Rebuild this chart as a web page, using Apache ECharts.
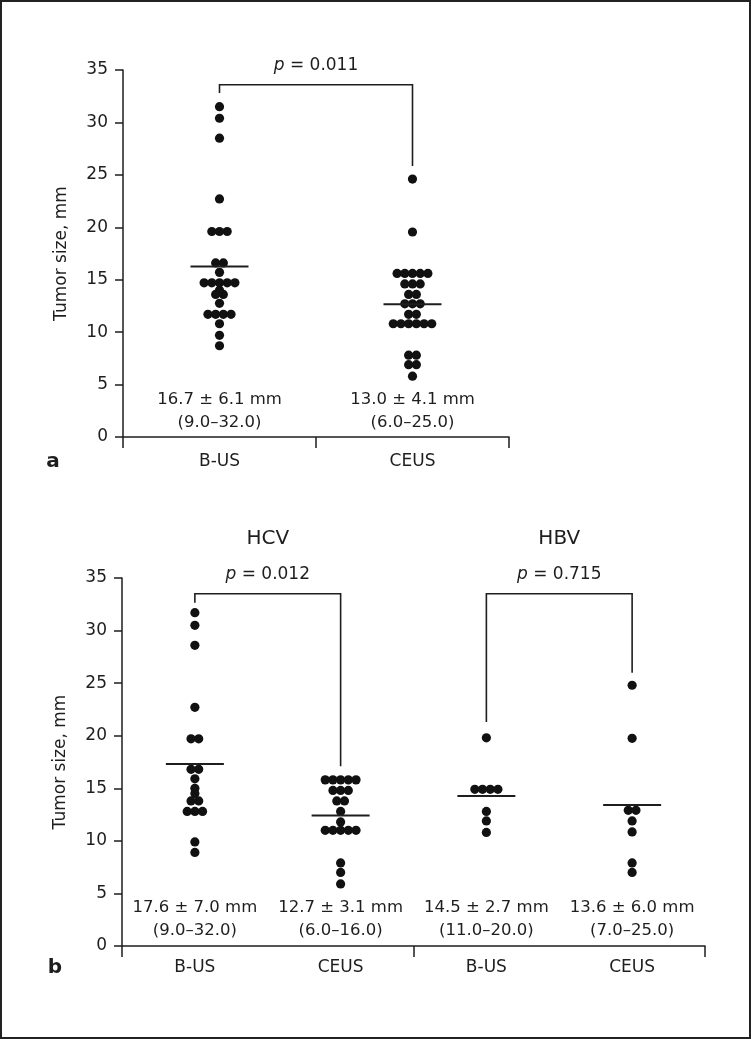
<!DOCTYPE html>
<html><head><meta charset="utf-8">
<script src="https://cdn.jsdelivr.net/npm/echarts@6/dist/echarts.min.js"></script>
<style>html,body{margin:0;padding:0;background:#fff}#c{width:751px;height:1039px}</style>
</head><body><div id="c"></div><script>
// ---------- data ----------
const yTicks = [0, 5, 10, 15, 20, 25, 30, 35];
const catsA = ['B-US', 'CEUS'];
const catsB = ['B-US', 'CEUS', 'B-US', 'CEUS'];
const groupNamesB = ['HCV', 'HBV'];

// panel a: individual tumour sizes (mm)
const aBUS = [31.5, 30.4, 28.5, 22.7, 19.6, 19.6, 19.6, 16.6, 16.6, 15.7,
  14.7, 14.7, 14.7, 14.7, 14.7, 14.0, 13.6, 13.6, 12.75, 11.7, 11.7, 11.7, 11.7, 10.8, 9.7, 8.7];
const aCEUS = [24.6, 19.55, 15.6, 15.6, 15.6, 15.6, 15.6, 14.6, 14.6, 14.6, 13.6, 13.6,
  12.7, 12.7, 12.7, 11.7, 11.7, 10.8, 10.8, 10.8, 10.8, 10.8, 10.8, 7.8, 7.8, 6.9, 6.9, 5.8];
const aMeanLines = [16.25, 12.65];
const aStats = ['16.7 ± 6.1 mm', '13.0 ± 4.1 mm'];
const aRanges = ['(9.0–32.0)', '(6.0–25.0)'];
const aP = ['0.011'];
const aBracket = [[0, 1, 33.6, 32.8, 25.85]]; // from cat, to cat, top, left end, right end

// panel b
const bHcvBUS = [31.7, 30.5, 28.6, 22.7, 19.7, 19.7, 16.8, 16.8, 15.9, 15.0, 14.5,
  13.8, 13.8, 12.8, 12.8, 12.8, 9.9, 8.9];
const bHcvCEUS = [15.8, 15.8, 15.8, 15.8, 15.8, 14.8, 14.8, 14.8, 13.8, 13.8, 12.8, 11.8,
  11.0, 11.0, 11.0, 11.0, 11.0, 7.9, 7.0, 5.9];
const bHbvBUS = [19.8, 14.9, 14.9, 14.9, 14.9, 12.8, 11.9, 10.8];
const bHbvCEUS = [24.8, 19.75, 12.9, 12.9, 11.9, 10.85, 7.9, 7.0];
const bMeanLines = [17.3, 12.4, 14.27, 13.4];
const bStats = ['17.6 ± 7.0 mm', '12.7 ± 3.1 mm', '14.5 ± 2.7 mm', '13.6 ± 6.0 mm'];
const bRanges = ['(9.0–32.0)', '(6.0–16.0)', '(11.0–20.0)', '(7.0–25.0)'];
const bP = ['0.012', '0.715'];
const bBracket = [[0, 1, 33.5, 32.65, 17.1], [2, 3, 33.5, 21.3, 26.0]];

// ---------- style ----------
const FONT = 'DejaVu Sans';
const INK = '#1e1e1e';
const DOT_R = 4.6, DOT_STEP = 7.7;

function dotData(groups) {
  const out = [];
  groups.forEach((vals, ci) => {
    const counts = {};
    vals.forEach(v => { counts[v] = (counts[v] || 0) + 1; });
    const seen = {};
    vals.forEach(v => {
      const k = seen[v] || 0; seen[v] = k + 1;
      out.push([ci, v, k, counts[v]]);
    });
  });
  return out;
}
function dotRender(params, api) {
  const p = api.coord([api.value(0), api.value(1)]);
  const off = (api.value(2) - (api.value(3) - 1) / 2) * DOT_STEP;
  return { type: 'circle', shape: { cx: p[0] + off, cy: p[1], r: DOT_R }, style: { fill: '#111' } };
}
function meanRender(params, api) {
  const p = api.coord([api.value(0), api.value(1)]);
  return { type: 'line', shape: { x1: p[0] - 29, y1: p[1], x2: p[0] + 29, y2: p[1] },
    style: { stroke: INK, lineWidth: 2 } };
}
function statsRender(stats, ranges, dy1, dy2) {
  return function (params, api) {
    const i = api.value(0);
    const p = api.coord([i, 0]);
    const st = { fontSize: 16.5, fontFamily: FONT, fill: INK, align: 'center', verticalAlign: 'middle' };
    return { type: 'group', children: [
      { type: 'text', x: p[0], y: p[1] + dy1, style: Object.assign({ text: stats[i] }, st) },
      { type: 'text', x: p[0], y: p[1] + dy2, style: Object.assign({ text: ranges[i] }, st) }
    ] };
  };
}
function bracketRender(pvals, groupNames) {
  return function (params, api) {
    const a = api.value(0), b = api.value(1), top = api.value(2), le = api.value(3), re = api.value(4);
    const p1 = api.coord([a, le]), p2 = api.coord([a, top]), p3 = api.coord([b, top]), p4 = api.coord([b, re]);
    const cx = (p2[0] + p3[0]) / 2;
    const children = [
      { type: 'polyline', shape: { points: [p1, p2, p3, p4] }, style: { stroke: INK, lineWidth: 1.6, fill: null } },
      { type: 'text', x: cx, y: p2[1] - 19, style: { text: '{i|p} = ' + pvals[params.dataIndex],
        rich: { i: { fontStyle: 'italic', fontSize: 17, fontFamily: FONT, fill: INK } },
        fontSize: 17, fontFamily: FONT, fill: INK, align: 'center', verticalAlign: 'middle' } }
    ];
    if (groupNames) {
      children.push({ type: 'text', x: cx, y: p2[1] - 55, style: { text: groupNames[params.dataIndex],
        fontSize: 20, fontFamily: FONT, fill: INK, align: 'center', verticalAlign: 'middle' } });
    }
    return { type: 'group', children };
  };
}

function xAxisCfg(cats, grid, margin, tickFn) {
  return {
    type: 'category', gridIndex: grid, data: cats, boundaryGap: true,
    axisLine: { lineStyle: { color: INK, width: 1.5 } },
    axisTick: { show: true, length: 11, lineStyle: { color: INK, width: 1.5 }, interval: tickFn },
    axisLabel: { fontSize: 17, fontFamily: FONT, color: INK, margin: margin },
    splitLine: { show: false }
  };
}
function yAxisCfg(grid) {
  return {
    type: 'value', gridIndex: grid, min: yTicks[0], max: yTicks[yTicks.length - 1], interval: yTicks[1] - yTicks[0],
    name: 'Tumor size, mm', nameLocation: 'middle', nameGap: 53, nameRotate: 90,
    nameTextStyle: { fontSize: 17, fontFamily: FONT, color: INK },
    axisLine: { show: true, lineStyle: { color: INK, width: 1.5 } },
    axisTick: { show: true, length: 8, lineStyle: { color: INK, width: 1.5 } },
    axisLabel: { fontSize: 17, fontFamily: FONT, color: INK, margin: 15 },
    splitLine: { show: false }
  };
}

const chart = echarts.init(document.getElementById('c'), null, { renderer: 'canvas' });
chart.setOption({
  backgroundColor: '#fff',
  animation: false,
  grid: [
    { left: 123, top: 70, width: 386, height: 367 },
    { left: 122, top: 578, width: 583, height: 368 }
  ],
  xAxis: [
    xAxisCfg(catsA, 0, 16, 0),
    xAxisCfg(catsB, 1, 13, function (idx) { return idx % 2 === 0; })
  ],
  yAxis: [yAxisCfg(0), yAxisCfg(1)],
  graphic: [
    { type: 'rect', shape: { x: 1, y: 1, width: 749, height: 1037 }, style: { fill: null, stroke: '#222', lineWidth: 2 }, silent: true },
    { type: 'text', x: 53, y: 462, style: { text: 'a', fontSize: 20, fontWeight: 'bold', fontFamily: FONT, fill: INK, align: 'center', verticalAlign: 'middle' } },
    { type: 'text', x: 55, y: 968, style: { text: 'b', fontSize: 20, fontWeight: 'bold', fontFamily: FONT, fill: INK, align: 'center', verticalAlign: 'middle' } }
  ],
  series: [
    { type: 'custom', xAxisIndex: 0, yAxisIndex: 0, data: dotData([aBUS, aCEUS]), renderItem: dotRender, clip: false },
    { type: 'custom', xAxisIndex: 0, yAxisIndex: 0, data: aMeanLines.map((v, i) => [i, v]), renderItem: meanRender, clip: false },
    { type: 'custom', xAxisIndex: 0, yAxisIndex: 0, data: catsA.map((c, i) => [i]), renderItem: statsRender(aStats, aRanges, -37, -14), clip: false },
    { type: 'custom', xAxisIndex: 0, yAxisIndex: 0, data: aBracket, renderItem: bracketRender(aP, null), clip: false },
    { type: 'custom', xAxisIndex: 1, yAxisIndex: 1, data: dotData([bHcvBUS, bHcvCEUS, bHbvBUS, bHbvCEUS]), renderItem: dotRender, clip: false },
    { type: 'custom', xAxisIndex: 1, yAxisIndex: 1, data: bMeanLines.map((v, i) => [i, v]), renderItem: meanRender, clip: false },
    { type: 'custom', xAxisIndex: 1, yAxisIndex: 1, data: catsB.map((c, i) => [i]), renderItem: statsRender(bStats, bRanges, -38, -15), clip: false },
    { type: 'custom', xAxisIndex: 1, yAxisIndex: 1, data: bBracket, renderItem: bracketRender(bP, groupNamesB), clip: false }
  ]
});
</script></body></html>
